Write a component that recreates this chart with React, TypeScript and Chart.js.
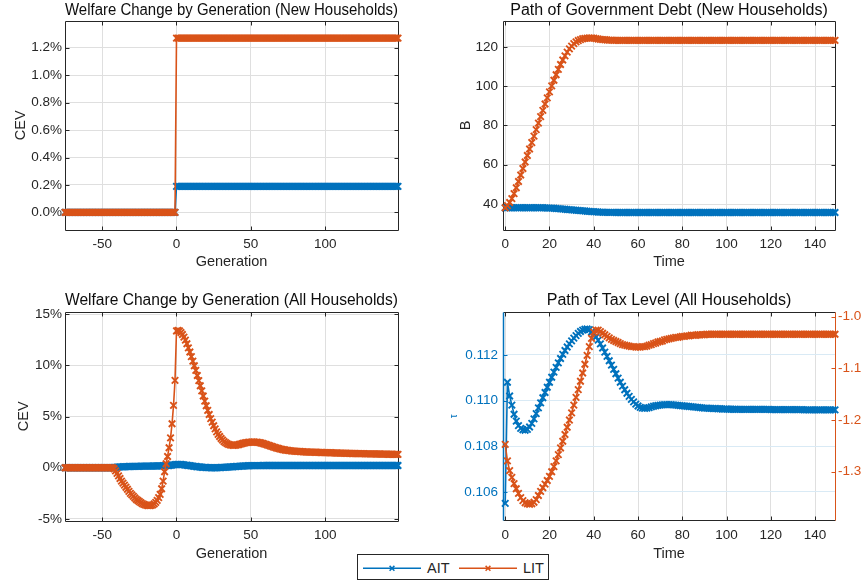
import { useEffect, useRef } from 'react';
import { Chart, registerables } from 'chart.js';

Chart.register(...registerables);

const FONT = "'Liberation Sans', Arial, Helvetica, sans-serif";
Chart.defaults.font.family = FONT;

const INK = '#262626';
const TITLE_INK = '#0d0d0d';
const GRID = '#dfdfdf';
const TAU_GRID = '#d9eaf5';
const AIT_COLOR = '#0072BD';
const LIT_COLOR = '#D95319';

const CANVAS_W = 432;
const CANVAS_H = 290;
const TICK_SIZE = 13.5;
const LABEL_SIZE = 14.5;
const TITLE_SIZE = 16;

const SERIES_NAMES = ['AIT', 'LIT'];

// x positions: generations start at -75, periods start at 0 (one value per step)
const FIRST_GENERATION = -75;
const FIRST_PERIOD = 0;

const generationTicks = [-50, 0, 50, 100];
const periodTicks = [0, 20, 40, 60, 80, 100, 120, 140];
const cevNewTicks = [0, 0.2, 0.4, 0.6, 0.8, 1.0, 1.2];
const debtTicks = [40, 60, 80, 100, 120];
const cevAllTicks = [-5, 0, 5, 10, 15];
const tauTicks = [0.106, 0.108, 0.11, 0.112];
const litTaxTicks = [-1.3, -1.2, -1.1, -1.0];

// Welfare change of newly born households (CEV, %), generations -75 … 149
const cevNewAIT = [
  0, 0, 0, 0, 0, 0, 0, 0, 0, 0, 0, 0, 0, 0, 0,
  0, 0, 0, 0, 0, 0, 0, 0, 0, 0, 0, 0, 0, 0, 0,
  0, 0, 0, 0, 0, 0, 0, 0, 0, 0, 0, 0, 0, 0, 0,
  0, 0, 0, 0, 0, 0, 0, 0, 0, 0, 0, 0, 0, 0, 0,
  0, 0, 0, 0, 0, 0, 0, 0, 0, 0, 0, 0, 0, 0, 0,
  0.19, 0.19, 0.19, 0.19, 0.19, 0.19, 0.19, 0.19, 0.19, 0.19, 0.19, 0.19, 0.19, 0.19, 0.19,
  0.19, 0.19, 0.19, 0.19, 0.19, 0.19, 0.19, 0.19, 0.19, 0.19, 0.19, 0.19, 0.19, 0.19, 0.19,
  0.19, 0.19, 0.19, 0.19, 0.19, 0.19, 0.19, 0.19, 0.19, 0.19, 0.19, 0.19, 0.19, 0.19, 0.19,
  0.19, 0.19, 0.19, 0.19, 0.19, 0.19, 0.19, 0.19, 0.19, 0.19, 0.19, 0.19, 0.19, 0.19, 0.19,
  0.19, 0.19, 0.19, 0.19, 0.19, 0.19, 0.19, 0.19, 0.19, 0.19, 0.19, 0.19, 0.19, 0.19, 0.19,
  0.19, 0.19, 0.19, 0.19, 0.19, 0.19, 0.19, 0.19, 0.19, 0.19, 0.19, 0.19, 0.19, 0.19, 0.19,
  0.19, 0.19, 0.19, 0.19, 0.19, 0.19, 0.19, 0.19, 0.19, 0.19, 0.19, 0.19, 0.19, 0.19, 0.19,
  0.19, 0.19, 0.19, 0.19, 0.19, 0.19, 0.19, 0.19, 0.19, 0.19, 0.19, 0.19, 0.19, 0.19, 0.19,
  0.19, 0.19, 0.19, 0.19, 0.19, 0.19, 0.19, 0.19, 0.19, 0.19, 0.19, 0.19, 0.19, 0.19, 0.19,
  0.19, 0.19, 0.19, 0.19, 0.19, 0.19, 0.19, 0.19, 0.19, 0.19, 0.19, 0.19, 0.19, 0.19, 0.19,
];
const cevNewLIT = [
  0, 0, 0, 0, 0, 0, 0, 0, 0, 0, 0, 0, 0, 0, 0,
  0, 0, 0, 0, 0, 0, 0, 0, 0, 0, 0, 0, 0, 0, 0,
  0, 0, 0, 0, 0, 0, 0, 0, 0, 0, 0, 0, 0, 0, 0,
  0, 0, 0, 0, 0, 0, 0, 0, 0, 0, 0, 0, 0, 0, 0,
  0, 0, 0, 0, 0, 0, 0, 0, 0, 0, 0, 0, 0, 0, 0,
  1.27, 1.27, 1.27, 1.27, 1.27, 1.27, 1.27, 1.27, 1.27, 1.27, 1.27, 1.27, 1.27, 1.27, 1.27,
  1.27, 1.27, 1.27, 1.27, 1.27, 1.27, 1.27, 1.27, 1.27, 1.27, 1.27, 1.27, 1.27, 1.27, 1.27,
  1.27, 1.27, 1.27, 1.27, 1.27, 1.27, 1.27, 1.27, 1.27, 1.27, 1.27, 1.27, 1.27, 1.27, 1.27,
  1.27, 1.27, 1.27, 1.27, 1.27, 1.27, 1.27, 1.27, 1.27, 1.27, 1.27, 1.27, 1.27, 1.27, 1.27,
  1.27, 1.27, 1.27, 1.27, 1.27, 1.27, 1.27, 1.27, 1.27, 1.27, 1.27, 1.27, 1.27, 1.27, 1.27,
  1.27, 1.27, 1.27, 1.27, 1.27, 1.27, 1.27, 1.27, 1.27, 1.27, 1.27, 1.27, 1.27, 1.27, 1.27,
  1.27, 1.27, 1.27, 1.27, 1.27, 1.27, 1.27, 1.27, 1.27, 1.27, 1.27, 1.27, 1.27, 1.27, 1.27,
  1.27, 1.27, 1.27, 1.27, 1.27, 1.27, 1.27, 1.27, 1.27, 1.27, 1.27, 1.27, 1.27, 1.27, 1.27,
  1.27, 1.27, 1.27, 1.27, 1.27, 1.27, 1.27, 1.27, 1.27, 1.27, 1.27, 1.27, 1.27, 1.27, 1.27,
  1.27, 1.27, 1.27, 1.27, 1.27, 1.27, 1.27, 1.27, 1.27, 1.27, 1.27, 1.27, 1.27, 1.27, 1.27,
];

// Government debt B, periods 0 … 149
const debtAIT = [
  38.1, 38.1, 38.1, 38.1, 38.1, 38.1, 38.1, 38.1, 38.1, 38.1, 38.1, 38.1, 38.1, 38.1, 38.1,
  38.1, 38.1, 38.1, 38.05, 38.0, 37.95, 37.9, 37.85, 37.75, 37.65, 37.55, 37.45, 37.35, 37.25, 37.15,
  37.05, 36.95, 36.85, 36.75, 36.65, 36.55, 36.45, 36.35, 36.25, 36.15, 36.1, 36.0, 35.95, 35.9, 35.85,
  35.8, 35.8, 35.75, 35.75, 35.75, 35.7, 35.7, 35.7, 35.7, 35.7, 35.7, 35.7, 35.7, 35.7, 35.7,
  35.7, 35.7, 35.7, 35.7, 35.7, 35.7, 35.7, 35.7, 35.7, 35.7, 35.7, 35.7, 35.7, 35.7, 35.7,
  35.7, 35.7, 35.7, 35.7, 35.7, 35.7, 35.7, 35.7, 35.7, 35.7, 35.7, 35.7, 35.7, 35.7, 35.7,
  35.7, 35.7, 35.7, 35.7, 35.7, 35.7, 35.7, 35.7, 35.7, 35.7, 35.7, 35.7, 35.7, 35.7, 35.7,
  35.7, 35.7, 35.7, 35.7, 35.7, 35.7, 35.7, 35.7, 35.7, 35.7, 35.7, 35.7, 35.7, 35.7, 35.7,
  35.7, 35.7, 35.7, 35.7, 35.7, 35.7, 35.7, 35.7, 35.7, 35.7, 35.7, 35.7, 35.7, 35.7, 35.7,
  35.7, 35.7, 35.7, 35.7, 35.7, 35.7, 35.7, 35.7, 35.7, 35.7, 35.7, 35.7, 35.7, 35.7, 35.7,
];
const debtLIT = [
  38.1, 39.2, 40.8, 42.8, 45.3, 48.3, 51.5, 54.8, 58.1, 61.4, 64.7, 68.0, 71.3, 74.6, 77.9,
  81.2, 84.5, 87.7, 90.9, 94.0, 97.1, 100.1, 103.0, 105.8, 108.5, 111.0, 113.3, 115.4, 117.3, 119.0,
  120.4, 121.6, 122.5, 123.2, 123.7, 124.1, 124.3, 124.4, 124.5, 124.5, 124.4, 124.2, 124.0, 123.8, 123.7,
  123.6, 123.5, 123.4, 123.4, 123.3, 123.3, 123.3, 123.3, 123.3, 123.3, 123.3, 123.3, 123.3, 123.3, 123.3,
  123.3, 123.3, 123.3, 123.3, 123.3, 123.3, 123.3, 123.3, 123.3, 123.3, 123.3, 123.3, 123.3, 123.3, 123.3,
  123.3, 123.3, 123.3, 123.3, 123.3, 123.3, 123.3, 123.3, 123.3, 123.3, 123.3, 123.3, 123.3, 123.3, 123.3,
  123.3, 123.3, 123.3, 123.3, 123.3, 123.3, 123.3, 123.3, 123.3, 123.3, 123.3, 123.3, 123.3, 123.3, 123.3,
  123.3, 123.3, 123.3, 123.3, 123.3, 123.3, 123.3, 123.3, 123.3, 123.3, 123.3, 123.3, 123.3, 123.3, 123.3,
  123.3, 123.3, 123.3, 123.3, 123.3, 123.3, 123.3, 123.3, 123.3, 123.3, 123.3, 123.3, 123.3, 123.3, 123.3,
  123.3, 123.3, 123.3, 123.3, 123.3, 123.3, 123.3, 123.3, 123.3, 123.3, 123.3, 123.3, 123.3, 123.3, 123.3,
];

// Welfare change of all households alive (CEV, %), generations -75 … 149
const cevAllAIT = [
  0, 0, 0, 0, 0, 0, 0, 0, 0, 0, 0, 0, 0, 0, 0,
  0, 0, 0, 0, 0, 0, 0, 0, 0, 0, 0, 0, 0, 0, 0,
  0, 0, 0,
  0.02, 0.04, 0.06, 0.07, 0.08, 0.09, 0.1, 0.1, 0.11, 0.11, 0.12, 0.12, 0.13, 0.13,
  0.13, 0.14, 0.14, 0.14, 0.15, 0.15, 0.15, 0.15, 0.16, 0.16, 0.16, 0.16, 0.17, 0.17,
  0.17, 0.17, 0.18, 0.18, 0.18, 0.19, 0.19, 0.2, 0.21, 0.22, 0.24, 0.26, 0.28, 0.3,
  0.32, 0.33, 0.33, 0.32, 0.3, 0.28, 0.26, 0.24, 0.22, 0.2, 0.18, 0.16, 0.14, 0.12, 0.1,
  0.08, 0.07, 0.05, 0.04, 0.03, 0.02, 0.01, 0.01, 0.0, 0.0, 0.0, 0.0, 0.0, 0.01, 0.01,
  0.02, 0.03, 0.04, 0.05, 0.06, 0.07, 0.08, 0.09, 0.1, 0.11, 0.12, 0.13, 0.14, 0.15, 0.16,
  0.17, 0.18, 0.18, 0.19, 0.19, 0.2, 0.2, 0.2, 0.21, 0.21, 0.21, 0.21, 0.21, 0.22, 0.22,
  0.22, 0.22, 0.22, 0.22, 0.22, 0.22, 0.22, 0.22, 0.22, 0.22, 0.22, 0.22, 0.22, 0.22, 0.22,
  0.22, 0.22, 0.22, 0.22, 0.22, 0.22, 0.22, 0.22, 0.22, 0.22, 0.22, 0.22, 0.22, 0.22, 0.22,
  0.22, 0.22, 0.22, 0.22, 0.22, 0.22, 0.22, 0.22, 0.22, 0.22, 0.22, 0.22, 0.22, 0.22, 0.22,
  0.22, 0.22, 0.22, 0.22, 0.22, 0.22, 0.22, 0.22, 0.22, 0.22, 0.22, 0.22, 0.22, 0.22, 0.22,
  0.22, 0.22, 0.22, 0.22, 0.22, 0.22, 0.22, 0.22, 0.22, 0.22, 0.22, 0.22, 0.22, 0.22, 0.22,
  0.22, 0.22, 0.22, 0.22, 0.22, 0.22, 0.22, 0.22, 0.22, 0.22, 0.22, 0.22, 0.22, 0.22, 0.22,
];
const cevAllLIT = [
  0, 0, 0, 0, 0, 0, 0, 0, 0, 0, 0, 0, 0, 0, 0,
  0, 0, 0, 0, 0, 0, 0, 0, 0, 0, 0, 0, 0, 0, 0,
  0, 0, 0,
  -0.1, -0.3, -0.55, -0.8, -1.05, -1.3, -1.5, -1.7, -1.9, -2.1, -2.3, -2.5, -2.65, -2.8,
  -2.95, -3.1, -3.2, -3.3, -3.4, -3.5, -3.57, -3.63, -3.67, -3.7, -3.7, -3.68, -3.62, -3.52,
  -3.38, -3.18, -2.92, -2.6, -2.05, -1.3, -0.39, 0.39, 1.1, 1.95, 2.92, 4.29, 6.08, 8.52,
  13.35, 13.4, 13.35, 13.2, 13.0, 12.75, 12.45, 12.1, 11.7, 11.3, 10.85, 10.4, 9.95, 9.5, 9.0,
  8.5, 8.0, 7.5, 7.0, 6.5, 6.05, 5.6, 5.2, 4.8, 4.45, 4.1, 3.8, 3.5, 3.25, 3.05,
  2.85, 2.7, 2.55, 2.45, 2.35, 2.28, 2.23, 2.2, 2.18, 2.18, 2.2, 2.23, 2.27, 2.31, 2.35,
  2.39, 2.42, 2.45, 2.47, 2.49, 2.5, 2.51, 2.51, 2.5, 2.49, 2.47, 2.44, 2.41, 2.37, 2.33,
  2.28, 2.23, 2.18, 2.13, 2.08, 2.03, 1.98, 1.94, 1.9, 1.86, 1.82, 1.79, 1.76, 1.73, 1.71,
  1.69, 1.67, 1.65, 1.63, 1.62, 1.61, 1.6, 1.59, 1.58, 1.57, 1.56, 1.55, 1.54, 1.54, 1.53,
  1.53, 1.52, 1.52, 1.51, 1.51, 1.5, 1.5, 1.49, 1.49, 1.48, 1.48, 1.47, 1.47, 1.46, 1.46,
  1.45, 1.45, 1.44, 1.44, 1.43, 1.43, 1.42, 1.42, 1.41, 1.41, 1.4, 1.4, 1.4, 1.39, 1.39,
  1.39, 1.38, 1.38, 1.38, 1.37, 1.37, 1.37, 1.36, 1.36, 1.36, 1.35, 1.35, 1.35, 1.35, 1.34,
  1.34, 1.34, 1.34, 1.33, 1.33, 1.33, 1.33, 1.32, 1.32, 1.32, 1.32, 1.31, 1.31, 1.31, 1.3,
];

// Tax level, periods 0 … 149: AIT rate tau (left axis), LIT level (right axis)
const taxAIT = [
  0.1055, 0.1108, 0.1102, 0.1098, 0.1094, 0.1091, 0.1089, 0.10878, 0.10872, 0.1087, 0.10874, 0.10884, 0.109, 0.1092, 0.10943,
  0.10968, 0.1099, 0.11012, 0.11035, 0.11058, 0.1108, 0.11102, 0.11124, 0.11145, 0.11165, 0.11184, 0.11202, 0.11219, 0.11234, 0.11248,
  0.11261, 0.11273, 0.11284, 0.11294, 0.11302, 0.11308, 0.11312, 0.11313, 0.1131, 0.113, 0.1129, 0.11278, 0.11264, 0.11248, 0.1123,
  0.11212, 0.11193, 0.11174, 0.11155, 0.11136, 0.11117, 0.11098, 0.1108, 0.11063, 0.11047, 0.11032, 0.11018, 0.11005, 0.10994, 0.10984,
  0.10976, 0.1097, 0.10967, 0.10966, 0.10967, 0.10969, 0.10972, 0.10975, 0.10977, 0.10979, 0.1098, 0.10981, 0.10982, 0.10982, 0.10982,
  0.10982, 0.10981, 0.1098, 0.10979, 0.10978, 0.10977, 0.10976, 0.10975, 0.10974, 0.10973, 0.10972, 0.10971, 0.1097, 0.10969, 0.10968,
  0.10967, 0.10967, 0.10966, 0.10966, 0.10965, 0.10965, 0.10964, 0.10964, 0.10963, 0.10963, 0.10963, 0.10962, 0.10962, 0.10962, 0.10962,
  0.10961, 0.10961, 0.10961, 0.10961, 0.10961, 0.10961, 0.10961, 0.10961, 0.10961, 0.10961, 0.10961, 0.10961, 0.10961, 0.10961, 0.10961,
  0.1096, 0.1096, 0.1096, 0.1096, 0.1096, 0.1096, 0.1096, 0.1096, 0.1096, 0.1096, 0.1096, 0.1096, 0.1096, 0.1096, 0.1096,
  0.10959, 0.10959, 0.10959, 0.10959, 0.10959, 0.10959, 0.10959, 0.10959, 0.10959, 0.10959, 0.10959, 0.10959, 0.10959, 0.10959, 0.10959,
];
const taxLIT = [
  -1.247, -1.279, -1.298, -1.311, -1.323, -1.333, -1.342, -1.35, -1.356, -1.36, -1.362, -1.363, -1.362, -1.359, -1.354,
  -1.346, -1.338, -1.331, -1.324, -1.317, -1.309, -1.3, -1.29, -1.279, -1.267, -1.254, -1.241, -1.228, -1.214, -1.2,
  -1.186, -1.171, -1.156, -1.141, -1.125, -1.109, -1.092, -1.075, -1.058, -1.042, -1.03, -1.026, -1.026, -1.029, -1.032,
  -1.035, -1.038, -1.041, -1.044, -1.046, -1.048, -1.05, -1.052, -1.054, -1.055, -1.056, -1.057, -1.058, -1.058, -1.059,
  -1.059, -1.059, -1.058, -1.058, -1.057, -1.055, -1.054, -1.052, -1.051, -1.049, -1.048, -1.047, -1.045, -1.044, -1.043,
  -1.042, -1.041, -1.04, -1.04, -1.039, -1.038, -1.038, -1.037, -1.037, -1.036, -1.036, -1.036, -1.035, -1.035, -1.035,
  -1.035, -1.034, -1.034, -1.034, -1.034, -1.034, -1.034, -1.034, -1.034, -1.034, -1.034, -1.034, -1.034, -1.034, -1.034,
  -1.034, -1.034, -1.034, -1.034, -1.034, -1.034, -1.034, -1.034, -1.034, -1.034, -1.034, -1.034, -1.034, -1.034, -1.034,
  -1.034, -1.034, -1.034, -1.034, -1.034, -1.034, -1.034, -1.034, -1.034, -1.034, -1.034, -1.034, -1.034, -1.034, -1.034,
  -1.034, -1.034, -1.034, -1.034, -1.034, -1.034, -1.034, -1.034, -1.034, -1.034, -1.034, -1.034, -1.034, -1.034, -1.034,
];

const pct1 = (v: number) => v.toFixed(1) + '%';
const pct0 = (v: number) => v.toFixed(0) + '%';
const plain = (v: number) => String(v);
const fix3 = (v: number) => v.toFixed(3);
const fix1 = (v: number) => v.toFixed(1);

type Area = { left: number; right: number; top: number; bottom: number };
type RightAxis = { min: number; max: number; ticks: number[]; fmt: (v: number) => string; color: string };
type PanelSpec = {
  key: string;
  left: number;
  top: number;
  area: Area;
  title: string;
  titlePadTop: number;
  xTitle: string;
  xTitleY: number;
  xFirst: number;
  xMin: number;
  xMax: number;
  xTicks: number[];
  xTickPad: number;
  yTitle: string;
  yTitleSize: number;
  yTitleX: number;
  yTitleColor: string;
  yMin: number;
  yMax: number;
  yTicks: number[];
  yFmt: (v: number) => string;
  yColor: string;
  yTickPad: number;
  yGrid: string;
  right?: RightAxis;
  ait: number[];
  lit: number[];
};

const panels: PanelSpec[] = [
  {
    key: 'cev-new', left: 0, top: 0,
    area: { left: 65, right: 398, top: 20.7, bottom: 230 },
    title: 'Welfare Change by Generation (New Households)', titlePadTop: 0.6,
    xTitle: 'Generation', xTitleY: 262, xFirst: FIRST_GENERATION, xMin: -75, xMax: 149, xTicks: generationTicks, xTickPad: 6.5,
    yTitle: 'CEV', yTitleSize: LABEL_SIZE, yTitleX: 20.5, yTitleColor: INK,
    yMin: -0.128, yMax: 1.397, yTicks: cevNewTicks, yFmt: pct1, yColor: INK, yTickPad: 3, yGrid: GRID,
    ait: cevNewAIT, lit: cevNewLIT,
  },
  {
    key: 'debt', left: 432, top: 0,
    area: { left: 71, right: 403, top: 20.7, bottom: 230 },
    title: 'Path of Government Debt (New Households)', titlePadTop: 0.6,
    xTitle: 'Time', xTitleY: 261.5, xFirst: FIRST_PERIOD, xMin: -1, xMax: 149, xTicks: periodTicks, xTickPad: 6.5,
    yTitle: 'B', yTitleSize: LABEL_SIZE, yTitleX: 33.8, yTitleColor: INK,
    yMin: 26.8, yMax: 133.3, yTicks: debtTicks, yFmt: plain, yColor: INK, yTickPad: 5, yGrid: GRID,
    ait: debtAIT, lit: debtLIT,
  },
  {
    key: 'cev-all', left: 0, top: 290,
    area: { left: 65, right: 398, top: 22, bottom: 230.5 },
    title: 'Welfare Change by Generation (All Households)', titlePadTop: 1.4,
    xTitle: 'Generation', xTitleY: 263.5, xFirst: FIRST_GENERATION, xMin: -75, xMax: 149, xTicks: generationTicks, xTickPad: 7,
    yTitle: 'CEV', yTitleSize: LABEL_SIZE, yTitleX: 23.8, yTitleColor: INK,
    yMin: -5.15, yMax: 15.2, yTicks: cevAllTicks, yFmt: pct0, yColor: INK, yTickPad: 3, yGrid: GRID,
    ait: cevAllAIT, lit: cevAllLIT,
  },
  {
    key: 'tax', left: 432, top: 290,
    area: { left: 71, right: 403, top: 22.3, bottom: 230.3 },
    title: 'Path of Tax Level (All Households)', titlePadTop: 1.4,
    xTitle: 'Time', xTitleY: 263.5, xFirst: FIRST_PERIOD, xMin: -1, xMax: 149, xTicks: periodTicks, xTickPad: 7,
    yTitle: 'τ', yTitleSize: 10, yTitleX: 22.7, yTitleColor: AIT_COLOR,
    yMin: 0.10476, yMax: 0.11386, yTicks: tauTicks, yFmt: fix3, yColor: AIT_COLOR, yTickPad: 5, yGrid: TAU_GRID,
    right: { min: -1.394, max: -0.9915, ticks: litTaxTicks, fmt: fix1, color: LIT_COLOR },
    ait: taxAIT, lit: taxLIT,
  },
];

function buildConfig(p: PanelSpec): any {
  const a = p.area;
  const titleLine = TITLE_SIZE * 1.2;
  const xTitleLine = LABEL_SIZE * 1.2;
  const yTitleLine = p.yTitleSize * 1.2;

  const series = (label: string, values: number[], color: string, axis: string, order: number) => ({
    label,
    data: values.map((v, i) => ({ x: p.xFirst + i, y: v })),
    yAxisID: axis,
    order,
    borderColor: color,
    backgroundColor: color,
    borderWidth: 1.6,
    pointStyle: 'crossRot',
    pointRadius: 4.6,
    pointHoverRadius: 4.6,
    pointBorderWidth: 1.9,
    pointBorderColor: color,
    pointBackgroundColor: color,
    tension: 0,
    fill: false,
    clip: false,
  });

  const fixedTicks = (values: number[]) => (scale: any) => {
    scale.ticks = values.map((value) => ({ value }));
  };

  const scales: any = {
    x: {
      type: 'linear',
      position: 'bottom',
      min: p.xMin,
      max: p.xMax,
      afterBuildTicks: fixedTicks(p.xTicks),
      afterFit: (s: any) => { s.height = CANVAS_H - a.bottom; },
      ticks: {
        font: { family: FONT, size: TICK_SIZE },
        color: INK,
        padding: p.xTickPad,
        maxRotation: 0,
        autoSkip: false,
        callback: (v: any) => plain(Number(v)),
      },
      grid: { color: GRID, lineWidth: 1, drawTicks: false },
      border: { display: false },
      title: {
        display: true,
        text: p.xTitle,
        color: INK,
        font: { family: FONT, size: LABEL_SIZE },
        padding: { top: 0, bottom: CANVAS_H - p.xTitleY - xTitleLine / 2 },
      },
    },
    y: {
      type: 'linear',
      position: 'left',
      min: p.yMin,
      max: p.yMax,
      afterBuildTicks: fixedTicks(p.yTicks),
      afterFit: (s: any) => { s.width = a.left; },
      ticks: {
        font: { family: FONT, size: TICK_SIZE },
        color: p.yColor,
        padding: p.yTickPad,
        autoSkip: false,
        callback: (v: any) => p.yFmt(Number(v)),
      },
      grid: { color: p.yGrid, lineWidth: 1, drawTicks: false },
      border: { display: false },
      title: {
        display: true,
        text: p.yTitle,
        color: p.yTitleColor,
        font: { family: FONT, size: p.yTitleSize },
        padding: { top: p.yTitleX - yTitleLine / 2, bottom: 0 },
      },
    },
  };

  if (p.right) {
    const r = p.right;
    scales.y2 = {
      type: 'linear',
      position: 'right',
      min: r.min,
      max: r.max,
      afterBuildTicks: fixedTicks(r.ticks),
      afterFit: (s: any) => { s.width = CANVAS_W - a.right; },
      ticks: {
        font: { family: FONT, size: TICK_SIZE },
        color: r.color,
        padding: 3,
        autoSkip: false,
        callback: (v: any) => r.fmt(Number(v)),
      },
      grid: { display: false, drawTicks: false },
      border: { display: false },
    };
  }

  const leftColor = p.right ? AIT_COLOR : INK;
  const rightColor = p.right ? p.right.color : INK;

  // Axes box with inward tick marks, drawn over the grid and under the data
  const axesBox = {
    id: 'axesBox',
    beforeDatasetsDraw(chart: any) {
      const { ctx, chartArea: c, scales: sc } = chart;
      const L = 4;
      const crisp = (v: number) => Math.round(v) + 0.5;
      const seg = (x1: number, y1: number, x2: number, y2: number, color: string, w = 1) => {
        ctx.strokeStyle = color;
        ctx.lineWidth = w;
        ctx.beginPath();
        ctx.moveTo(x1, y1);
        ctx.lineTo(x2, y2);
        ctx.stroke();
      };
      ctx.save();
      const l = crisp(c.left), r = crisp(c.right), t = crisp(c.top), b = crisp(c.bottom);
      for (const tk of sc.x.ticks) {
        const px = crisp(sc.x.getPixelForValue(tk.value));
        seg(px, b, px, b - L, INK);
        seg(px, t, px, t + L, INK);
      }
      for (const tk of sc.y.ticks) {
        const py = crisp(sc.y.getPixelForValue(tk.value));
        seg(l, py, l + L, py, leftColor);
        if (!sc.y2) seg(r, py, r - L, py, INK);
      }
      if (sc.y2) {
        for (const tk of sc.y2.ticks) {
          const py = crisp(sc.y2.getPixelForValue(tk.value));
          seg(r, py, r - L, py, rightColor);
        }
      }
      seg(l, t, r, t, INK);
      seg(l, b, r, b, INK);
      seg(l, t, l, b, leftColor, p.right ? 1.5 : 1);
      seg(r, t, r, b, rightColor);
      ctx.restore();
    },
  };

  return {
    type: 'line',
    data: {
      datasets: [
        series(SERIES_NAMES[0], p.ait, AIT_COLOR, 'y', 1),
        series(SERIES_NAMES[1], p.lit, LIT_COLOR, p.right ? 'y2' : 'y', 0),
      ],
    },
    options: {
      animation: false,
      responsive: false,
      devicePixelRatio: 1,
      events: [],
      layout: { padding: { left: 0, top: 0, bottom: 0, right: p.right ? 0 : CANVAS_W - a.right } },
      plugins: {
        legend: { display: false },
        tooltip: { enabled: false },
        title: {
          display: true,
          text: p.title,
          color: TITLE_INK,
          fullSize: false,
          align: 'center',
          font: { family: FONT, size: TITLE_SIZE, weight: 'normal', lineHeight: 1.2 },
          padding: { top: p.titlePadTop, bottom: a.top - titleLine - p.titlePadTop },
        },
      },
      scales,
    },
    plugins: [axesBox],
  };
}

function Panel({ spec }: { spec: PanelSpec }) {
  const ref = useRef<HTMLCanvasElement | null>(null);
  useEffect(() => {
    if (!ref.current) return;
    const chart = new Chart(ref.current, buildConfig(spec));
    return () => chart.destroy();
  }, [spec]);
  return (
    <canvas
      ref={ref}
      width={CANVAS_W}
      height={CANVAS_H}
      style={{ position: 'absolute', left: spec.left, top: spec.top, width: CANVAS_W, height: CANVAS_H }}
    />
  );
}

function Legend() {
  const items = [
    { name: SERIES_NAMES[0], color: AIT_COLOR, x: 5 },
    { name: SERIES_NAMES[1], color: LIT_COLOR, x: 101 },
  ];
  const cy = 13.3;
  const m = 2.4;
  return (
    <div
      style={{
        position: 'absolute', left: 357, top: 554, width: 190, height: 24,
        border: `1px solid ${INK}`, background: '#fff',
      }}
    >
      <svg width={190} height={24} style={{ position: 'absolute', left: 0, top: 0 }}>
        {items.map((it) => (
          <g key={it.name} stroke={it.color} strokeWidth={1.5} fill="none">
            <line x1={it.x} y1={cy} x2={it.x + 58} y2={cy} />
            <line x1={it.x + 29 - m} y1={cy - m} x2={it.x + 29 + m} y2={cy + m} />
            <line x1={it.x + 29 - m} y1={cy + m} x2={it.x + 29 + m} y2={cy - m} />
          </g>
        ))}
      </svg>
      {items.map((it) => (
        <span
          key={it.name}
          style={{
            position: 'absolute', left: it.x + 64, top: cy - 8, lineHeight: '16px',
            font: `${LABEL_SIZE}px ${FONT}`, color: INK, whiteSpace: 'nowrap',
          }}
        >
          {it.name}
        </span>
      ))}
    </div>
  );
}

export default function App() {
  return (
    <div style={{ position: 'absolute', left: 0, top: 0, width: 864, height: 581, background: '#fff', overflow: 'hidden' }}>
      {panels.map((p) => (
        <Panel key={p.key} spec={p} />
      ))}
      <Legend />
    </div>
  );
}
